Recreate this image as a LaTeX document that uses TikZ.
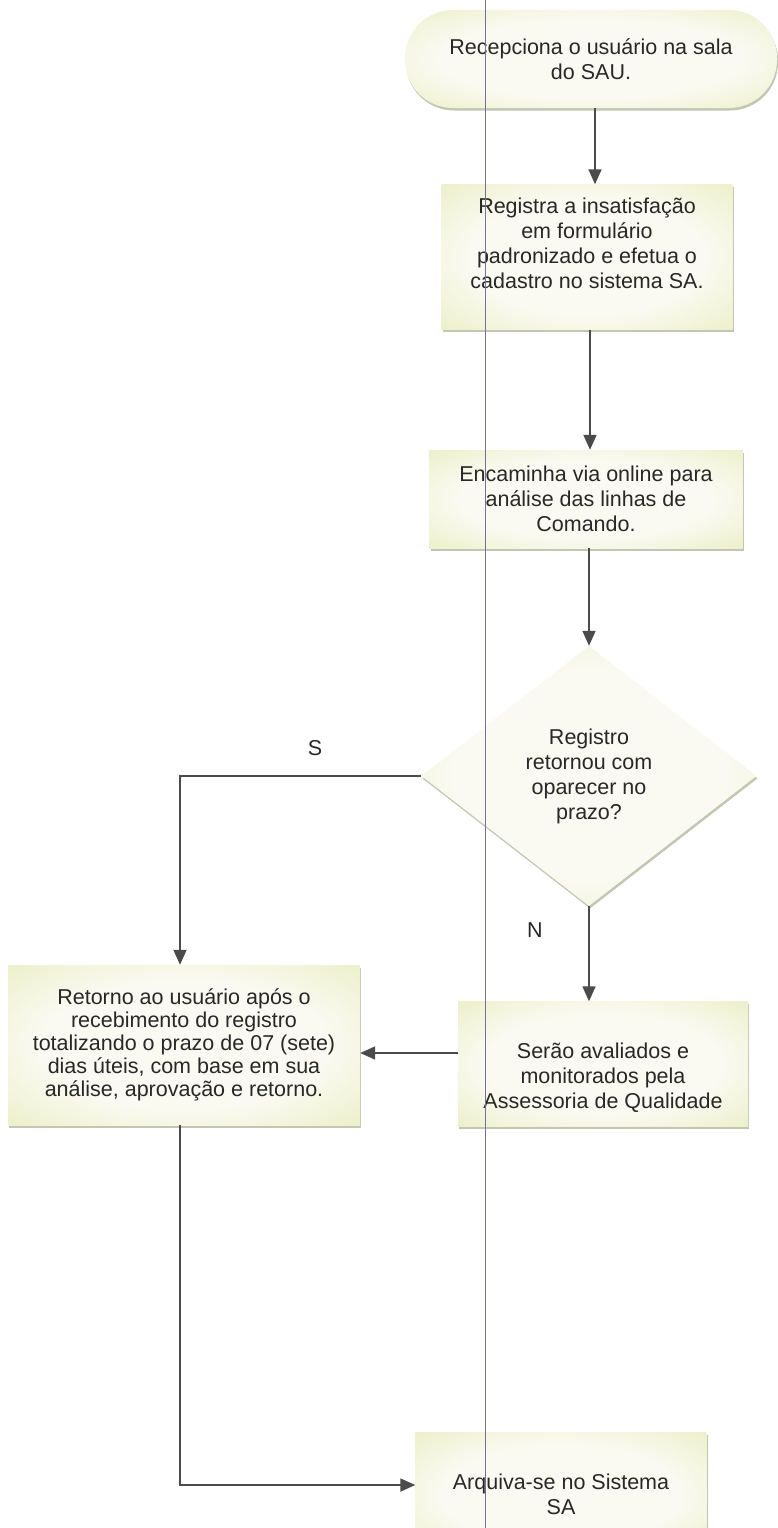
\documentclass[tikz,border=0pt]{standalone}
\usepackage{fontspec}
\setmainfont{Liberation Sans}
\usetikzlibrary{arrows.meta,shapes.geometric,shadows}
\definecolor{boxfill}{RGB}{222,229,160}
\definecolor{boxlight}{RGB}{250,250,242}
\definecolor{arrowgray}{RGB}{75,75,75}
\definecolor{textgray}{RGB}{40,40,40}
\definecolor{foldline}{RGB}{115,115,150}
\definecolor{shadowgreen}{RGB}{135,145,105}
\pgfdeclareradialshading{paper}{\pgfpoint{0bp}{0bp}}{color(0bp)=(boxlight); color(20bp)=(boxlight); color(52bp)=(boxfill); color(100bp)=(boxfill)}
\begin{document}
\begin{tikzpicture}[x=1pt,y=-1pt,
	every node/.style={font=\fontsize{21.5}{25}\selectfont, text=textgray},
	block/.style={rectangle, align=center, inner sep=0pt, shading=paper,
		drop shadow={shadow xshift=1pt, shadow yshift=-2.5pt, fill=shadowgreen}},
	choice/.style={diamond, align=center, inner sep=0pt, shading=paper,
		drop shadow={shadow xshift=1pt, shadow yshift=-2.5pt, fill=shadowgreen}},
	arr/.style={draw=arrowgray, line width=1.7pt, -{Triangle[length=15pt,width=13pt]}}]
	\useasboundingbox (0,0) rectangle (778,1528);
	\fill[white] (0,0) rectangle (778,1528);
 	\node[block, rounded corners=48pt, minimum width=372pt, minimum height=98pt] (start) at (591,59) {Recepciona o usuário na sala\\do SAU.};
 	\node[block, minimum width=291pt, minimum height=145pt] (reg) at (587,257) {Registra a insatisfação\\em formulário\\padronizado e efetua o\\cadastro no sistema SA.\rule[-28pt]{0pt}{28pt}};
 	\node[block, minimum width=313pt, minimum height=98pt] (enc) at (586,499) {Encaminha via online para\\análise das linhas de\\Comando.};
 	\node[choice, minimum width=335pt, minimum height=260pt] (dec) at (589,776) {Registro\\retornou com\\oparecer no\\prazo?};
 	\node[block, minimum width=352pt, minimum height=160pt, font=\fontsize{21.5}{23}\selectfont] (ret) at (184,1045) {Retorno ao usuário após o\\recebimento do registro\\totalizando o prazo de 07 (sete)\\dias úteis, com base em sua\\análise, aprovação e retorno.};
 	\node[block, minimum width=290pt, minimum height=125pt] (ava) at (603,1064) {\rule{0pt}{44pt}Serão avaliados e\\monitorados pela\\Assessoria de Qualidade};
 	\node[block, minimum width=291pt, minimum height=124pt] (arq) at (561,1494) {Arquiva-se no Sistema\\SA};
 	\node (s) at (315,748) {S};
 	\node (n) at (535,930) {N};
 	\draw[arr] (start.south -| 595,0) -- (reg.north -| 595,0);
 	\draw[arr] (reg.south -| 590,0) -- (enc.north -| 590,0);
 	\draw[arr] (enc.south -| 589,0) -- (dec.north);
 	\draw[arr] (dec.west) -| (ret.north -| 180,0);
 	\draw[arr] (dec.south) -- (dec.south |- ava.north);
 	\draw[arr] (ava.west |- 0,1053) -- (ret.east |- 0,1053);
 	\draw[arr] (ret.south -| 180,0) |- (arq.west |- 0,1485);
 	\draw[foldline, line width=0.7pt] (485,0) -- (485,1528);
\end{tikzpicture}
\end{document}
